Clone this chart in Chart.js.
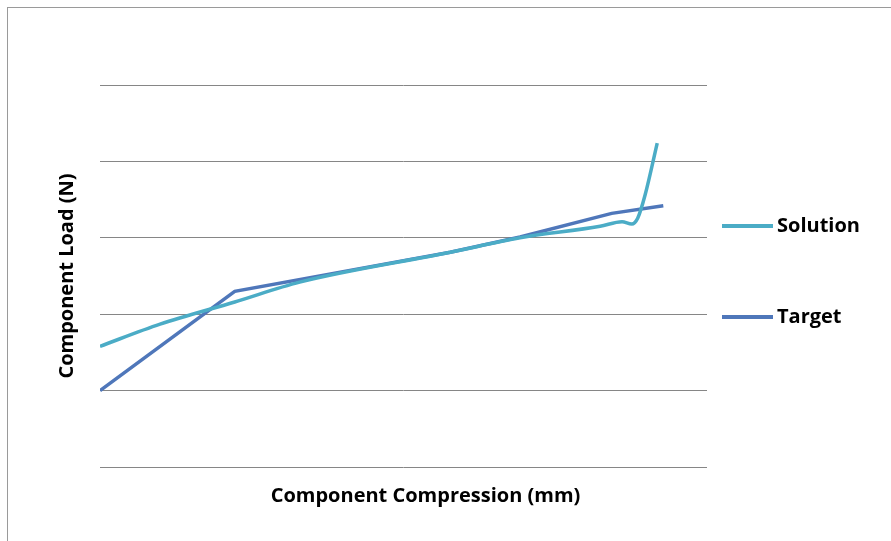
<!DOCTYPE html>
<html>
<head>
<meta charset="utf-8">
<script src="https://cdn.jsdelivr.net/npm/chart.js@4"></script>
<style>
	body { margin: 0; background: #fff; }
	#frame { position: absolute; left: 7px; top: 7px; width: 900px; height: 600px; border: 1px solid #9a9a9a; }
	#wrap { position: absolute; left: 0; top: 0; width: 891px; height: 541px; }
</style>
</head>
<body>
<div id="frame"></div>
<div id="wrap"><canvas id="loadChart" width="891" height="541"></canvas></div>
<script>
// compression in % of the axis span, load in gridline units (no tick labels on the original)
var solutionX = [0, 9.9, 22.2, 32.9, 57.7, 69.2, 82.4, 86.0, 87.6, 88.6, 89.8, 91.8];
var solutionY = [1.58, 1.87, 2.16, 2.42, 2.81, 3.00, 3.15, 3.21, 3.18, 3.26, 3.56, 4.24];
var targetX = [0, 22.2, 57.7, 69.2, 84.3, 92.8];
var targetY = [1.0, 2.30, 2.81, 3.01, 3.32, 3.42];
var seriesNames = ['Solution', 'Target'];
var xTitle = 'Component Compression (mm)';
var yTitle = 'Component Load (N)';

function toPoints(xs, ys) {
	var pts = [];
	for (var i = 0; i < xs.length; i++) pts.push({x: xs[i], y: ys[i]});
	return pts;
}

var fontFamily = "'Open Sans', 'Noto Sans', sans-serif";

const sideLegend = {
	id: 'sideLegend',
	afterDraw: function(chart) {
		var ctx = chart.ctx;
		var a = chart.chartArea;
		var mid = (a.top + a.bottom) / 2;
		ctx.save();
		ctx.font = 'bold 20px ' + fontFamily;
		ctx.textBaseline = 'middle';
		ctx.fillStyle = '#000';
		chart.data.datasets.forEach(function(ds, i) {
			var y = mid - 50 + i * 91;
			ctx.strokeStyle = ds.borderColor;
			ctx.lineWidth = 4;
			ctx.beginPath();
			ctx.moveTo(a.right + 15, y);
			ctx.lineTo(a.right + 66, y);
			ctx.stroke();
			ctx.textAlign = 'left';
			ctx.fillText(ds.label, a.right + 70, y);
		});
		// x axis title
		ctx.textAlign = 'center';
		ctx.fillText(xTitle, (a.left + a.right) / 2 + 22, a.bottom + 29);
		ctx.restore();
	}
};

const ctx = document.getElementById('loadChart').getContext('2d');
const myChart = new Chart(ctx, {
	type: 'line',
	data: {
		datasets: [{
			label: seriesNames[0],
			data: toPoints(solutionX, solutionY),
			borderColor: '#4bacc6',
			borderWidth: 3.5,
			pointRadius: 0,
			cubicInterpolationMode: 'monotone'
		}, {
			label: seriesNames[1],
			data: toPoints(targetX, targetY),
			borderColor: '#4f77ba',
			borderWidth: 3.5,
			pointRadius: 0,
			tension: 0
		}]
	},
	options: {
		responsive: false,
		animation: false,
		layout: {
			padding: {left: 40, top: 85, right: 184, bottom: 74}
		},
		plugins: {
			legend: {display: false},
			tooltip: {enabled: false}
		},
		scales: {
			x: {
				type: 'linear',
				min: 0,
				max: 100,
				display: false
			},
			y: {
				min: 0,
				max: 5,
				ticks: {display: false, stepSize: 1},
				grid: {color: '#868686', lineWidth: 1, drawTicks: false},
				border: {display: false},
				title: {
					display: true,
					text: yTitle,
					color: '#000',
					font: {family: fontFamily, size: 20, weight: 'bold'},
					padding: {top: 15, bottom: 21}
				}
			}
		}
	},
	plugins: [sideLegend]
});
</script>
</body>
</html>
